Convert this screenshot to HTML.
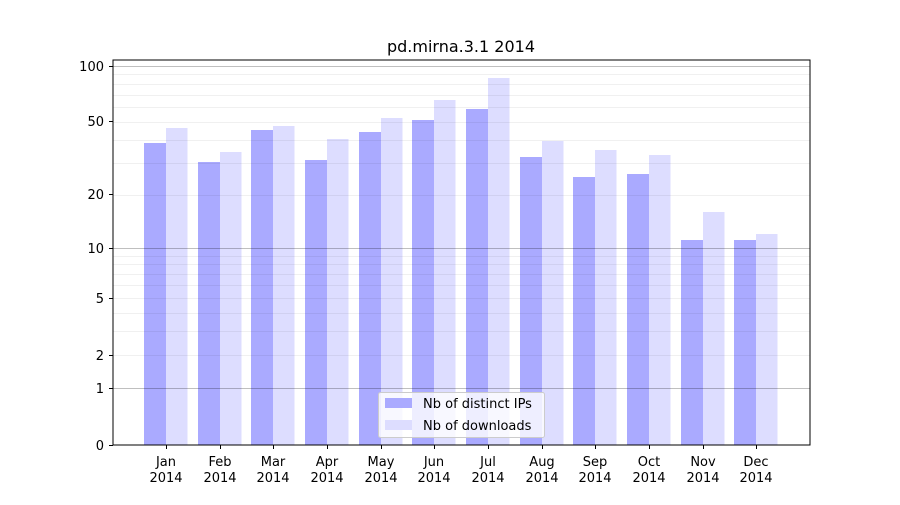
<!DOCTYPE html>
<html><head><meta charset="utf-8"><style>
html,body{margin:0;padding:0;background:#fff;}
text{font-family:"DejaVu Sans","Liberation Sans",sans-serif;fill:#000;}
</style></head><body>
<svg width="900" height="500" viewBox="0 0 900 500" xmlns="http://www.w3.org/2000/svg">
<rect width="900" height="500" fill="#fff"/>
<g id="bars"></g>
<g id="grid"></g>
<rect x="113" y="60" width="697" height="385" fill="none" stroke="#000" stroke-width="1"/>
<g id="ticks" font-size="13"></g>
<text x="461" y="52" text-anchor="middle" font-size="16">pd.mirna.3.1 2014</text>
<g>
<rect x="378.5" y="392.5" width="166" height="45" fill="#fff" fill-opacity="0.8" stroke="#ccc" rx="2"/>
<rect x="385" y="398" width="27" height="10" fill="#aaaaff"/>
<text x="423" y="408" font-size="13">Nb of distinct IPs</text>
<rect x="385" y="420" width="27" height="10" fill="#ddddff"/>
<text x="423" y="430" font-size="13">Nb of downloads</text>
</g>
<script>
(function(){
var ns="http://www.w3.org/2000/svg";
function Y(v){return 445-189.2*Math.log10(v+1);}
function el(t,a,p,txt){var e=document.createElementNS(ns,t);for(var k in a)e.setAttribute(k,a[k]);if(txt!==undefined)e.textContent=txt;p.appendChild(e);return e;}
var g=document.getElementById('grid');
var minors=[2,3,4,5,6,7,8,9,20,30,40,50,60,70,80,90];
minors.forEach(function(v){var y=Math.round(Y(v))+0.5;el('line',{x1:113,x2:810,y1:y,y2:y,stroke:'#000','stroke-opacity':0.06,'stroke-width':1},g);});
[1,10,100].forEach(function(v){var y=Math.round(Y(v))+0.5;el('line',{x1:113,x2:810,y1:y,y2:y,stroke:'#000','stroke-opacity':0.25,'stroke-width':1},g);});
var b=document.getElementById('bars');
var c=[166,220,273,327,381,434,488,542,595,649,703,756];
var d=[143,162,130,160,132,120,109,157,177,174,240,240];
var l=[128,152,126,139,118,100,78,141,150,155,212,234];
var m=['Jan','Feb','Mar','Apr','May','Jun','Jul','Aug','Sep','Oct','Nov','Dec'];
var t=document.getElementById('ticks');
for(var i=0;i<12;i++){
 el('rect',{x:c[i]-22,y:d[i],width:22,height:445-d[i],fill:'#aaaaff'},b);
 el('rect',{x:c[i],y:l[i],width:21.5,height:445-l[i],fill:'#ddddff'},b);
 el('line',{x1:c[i]+0.5,x2:c[i]+0.5,y1:445,y2:449,stroke:'#000'},t);
 el('text',{x:c[i],y:466,'text-anchor':'middle'},t,m[i]);
 el('text',{x:c[i],y:482,'text-anchor':'middle'},t,'2014');
}
[[0,445],[1,388],[2,355],[5,298],[10,248],[20,194],[50,121],[100,66]].forEach(function(p){
 el('line',{x1:109,x2:113,y1:p[1]+0.5,y2:p[1]+0.5,stroke:'#000'},t);
 el('text',{x:104,y:p[1]+5,'text-anchor':'end'},t,String(p[0]));
});
})();
</script>
</svg>
</body></html>
